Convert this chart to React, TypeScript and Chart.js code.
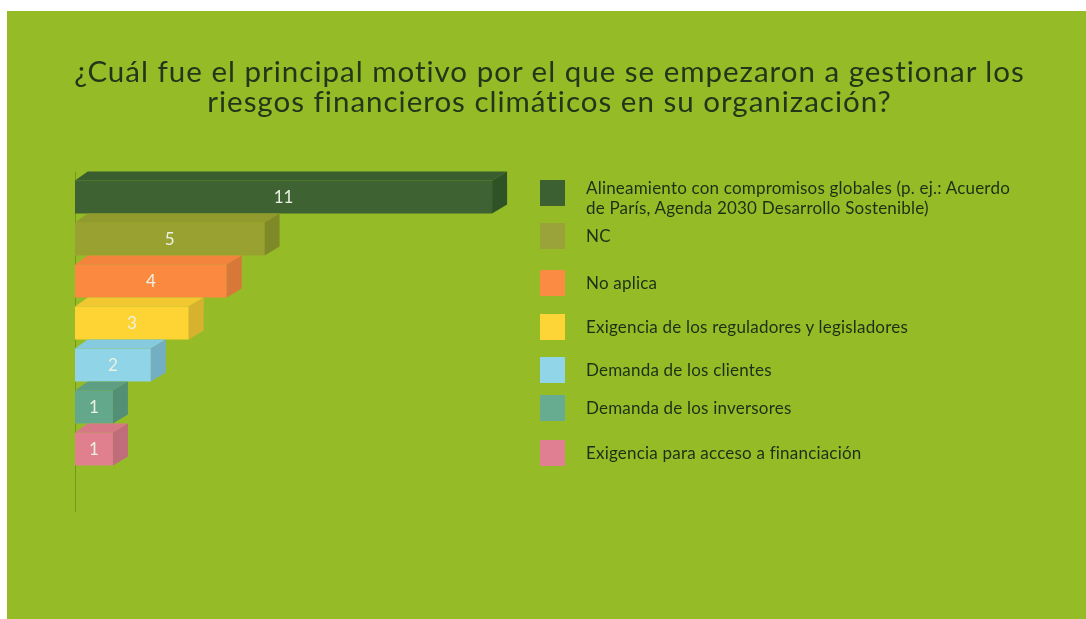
import React, { useEffect, useRef } from "react";
import { Chart, registerables } from "chart.js";

Chart.register(...registerables);

// ---- data ----
const titleLines = [
  "¿Cuál fue el principal motivo por el que se empezaron a gestionar los",
  "riesgos financieros climáticos en su organización?",
];
const categories = [
  "Alineamiento con compromisos globales (p. ej.: Acuerdo de París, Agenda 2030 Desarrollo Sostenible)",
  "NC",
  "No aplica",
  "Exigencia de los reguladores y legisladores",
  "Demanda de los clientes",
  "Demanda de los inversores",
  "Exigencia para acceso a financiación",
];
const values = [11, 5, 4, 3, 2, 1, 1];
const xRange = [0, 12];

// ---- styles ----
const BG = "#95bc27";
const frontColors = ["#3e6232", "#99a130", "#fb8a40", "#fed435", "#90d4e8", "#64a88b", "#e0808f"];
const topColors = ["#3a5d2f", "#919a2d", "#f2843d", "#f2c832", "#86cadf", "#5e9f83", "#d77886"];
const sideColors = ["#2f5226", "#7f8927", "#d8773a", "#d6b22e", "#73aec2", "#538f74", "#c06c7a"];
const legendColors = ["#3d6033", "#9aa23a", "#fb8b42", "#fed537", "#90d5e8", "#67ac90", "#e07f92"];
const legendTops = [169, 212, 259, 303, 346, 384, 429];
const DX = 15;
const DY = 9;

const threeD = {
  id: "threeD",
  beforeDatasetsDraw(chart: any) {
    const { ctx, chartArea } = chart;
    const y = chart.scales.y;
    const step = Math.abs(y.getPixelForValue(1) - y.getPixelForValue(0));
    const meta = chart.getDatasetMeta(0);
    const first = meta.data[0];
    const top = first.y - first.height / 2 - DY;
    ctx.save();
    ctx.strokeStyle = "rgba(110,150,25,0.9)";
    ctx.lineWidth = 1;
    ctx.beginPath();
    ctx.moveTo(chartArea.left + 0.5, top);
    ctx.lineTo(chartArea.left + 0.5, chartArea.bottom + step);
    ctx.stroke();
    ctx.restore();
  },
  afterDatasetsDraw(chart: any) {
    const { ctx } = chart;
    const meta = chart.getDatasetMeta(0);
    ctx.save();
    meta.data.forEach((bar: any, i: number) => {
      const left = bar.base;
      const right = bar.x;
      const t = bar.y - bar.height / 2;
      const b = bar.y + bar.height / 2;
      // top face
      ctx.fillStyle = topColors[i];
      ctx.beginPath();
      ctx.moveTo(left, t);
      ctx.lineTo(left + DX * 0.85, t - DY);
      ctx.lineTo(right + DX, t - DY);
      ctx.lineTo(right, t);
      ctx.closePath();
      ctx.fill();
      // side face
      ctx.fillStyle = sideColors[i];
      ctx.beginPath();
      ctx.moveTo(right, t);
      ctx.lineTo(right + DX, t - DY);
      ctx.lineTo(right + DX, b - DY);
      ctx.lineTo(right, b);
      ctx.closePath();
      ctx.fill();
      // value label
      ctx.fillStyle = "#eaf1e2";
      ctx.font = "17px Lato";
      ctx.textAlign = "center";
      ctx.textBaseline = "middle";
      ctx.fillText(String(values[i]), (left + right) / 2, bar.y + 1);
    });
    ctx.restore();
  },
};

export default function App() {
  const canvasRef = useRef<HTMLCanvasElement | null>(null);

  useEffect(() => {
    const canvas = canvasRef.current;
    if (!canvas) return;
    const chart = new Chart(canvas, {
      type: "bar",
      data: {
        labels: categories,
        datasets: [
          {
            data: values,
            backgroundColor: frontColors,
            borderWidth: 0,
            categoryPercentage: 1,
            barPercentage: 0.78,
          },
        ],
      },
      options: {
        indexAxis: "y",
        animation: false,
        responsive: false,
        maintainAspectRatio: false,
        layout: { padding: { left: 68, right: 556, top: 165, bottom: 149 } },
        scales: {
          x: { display: false, min: xRange[0], max: xRange[1] },
          y: { display: false },
        },
        plugins: {
          legend: { display: false },
          tooltip: { enabled: false },
          title: { display: false },
        },
      },
      plugins: [threeD],
    });
    return () => chart.destroy();
  }, []);

  return (
    <div
      style={{
        position: "fixed",
        left: 7,
        top: 11,
        width: 1079,
        height: 608,
        background: BG,
        overflow: "hidden",
      }}
    >
      <canvas ref={canvasRef} width={1079} height={608} style={{ position: "absolute", left: 0, top: 0 }} />
      <div
        style={{
          position: "absolute",
          left: 3,
          top: 44.6,
          width: 1079,
          textAlign: "center",
          fontFamily: "Lato",
          fontSize: 29.5,
          letterSpacing: "1px",
          lineHeight: "30px",
          color: "#22361a",
          whiteSpace: "nowrap",
        }}
      >
        {titleLines.map((l, i) => (
          <div key={i}>{l}</div>
        ))}
      </div>
      {categories.map((c, i) => (
        <React.Fragment key={i}>
          <div
            style={{
              position: "absolute",
              left: 533,
              top: legendTops[i],
              width: 25,
              height: 26,
              background: legendColors[i],
            }}
          />
          <div
            style={{
              position: "absolute",
              left: 579,
              top: legendTops[i] + (i === 0 ? -1.6 : 3.4),
              width: 432,
              fontFamily: "Lato",
              fontSize: 17,
              letterSpacing: "0.2px",
              lineHeight: "20px",
              color: "#1c3016",
            }}
          >
            {c}
          </div>
        </React.Fragment>
      ))}
    </div>
  );
}
